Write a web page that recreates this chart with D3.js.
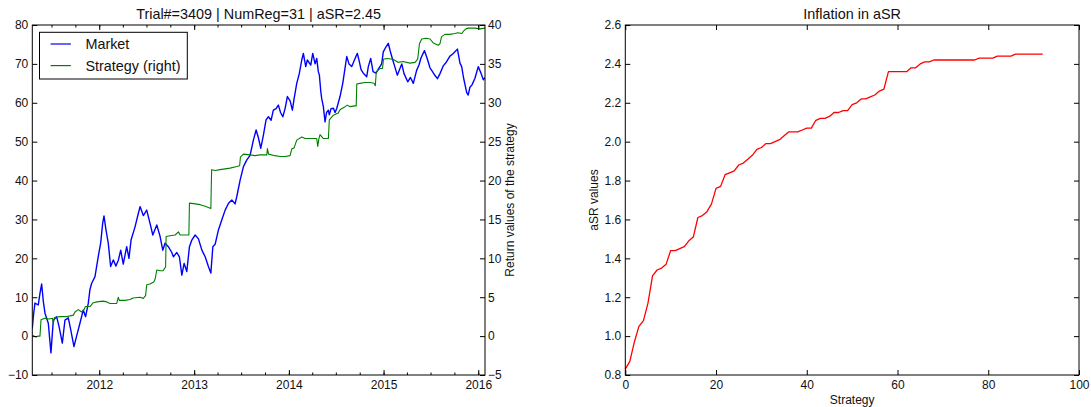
<!DOCTYPE html>
<html><head><meta charset="utf-8">
<script src="https://cdn.jsdelivr.net/npm/d3@7"></script>
<style>
html,body{margin:0;padding:0;background:#fff;}
svg{display:block;font-family:"Liberation Sans",Arial,Helvetica,sans-serif;}
</style></head><body>
<svg id="chart" width="1091" height="407"></svg>
<script>
// ---- data ----
// Market series: time as decimal year, value on the left axis
const marketYears = [
2011.293,2011.306,2011.321,2011.356,2011.374,2011.392,2011.409,2011.427,2011.462,2011.490,
2011.515,2011.550,2011.575,2011.610,2011.638,2011.673,2011.696,2011.733,2011.761,2011.796,
2011.831,2011.856,2011.884,2011.902,2011.920,2011.955,2011.989,2012.015,2012.036,2012.050,
2012.071,2012.095,2012.120,2012.148,2012.176,2012.201,2012.226,2012.253,2012.289,2012.313,
2012.335,2012.377,2012.412,2012.430,2012.464,2012.500,2012.535,2012.564,2012.606,2012.641,
2012.669,2012.693,2012.728,2012.764,2012.781,2012.817,2012.844,2012.870,2012.894,2012.922,
2012.950,2012.975,2013.010,2013.045,2013.081,2013.116,2013.150,2013.176,2013.197,2013.221,
2013.256,2013.292,2013.327,2013.361,2013.397,2013.432,2013.450,2013.485,2013.520,2013.556,
2013.590,2013.625,2013.654,2013.678,2013.703,2013.731,2013.759,2013.784,2013.812,2013.836,
2013.865,2013.889,2013.912,2013.936,2013.960,2013.984,2014.013,2014.037,2014.055,2014.083,
2014.111,2014.136,2014.153,2014.178,2014.195,2014.231,2014.252,2014.277,2014.294,2014.311,
2014.322,2014.337,2014.347,2014.364,2014.382,2014.398,2014.417,2014.427,2014.445,2014.470,
2014.488,2014.506,2014.540,2014.569,2014.593,2014.611,2014.635,2014.664,2014.699,2014.723,
2014.744,2014.762,2014.786,2014.822,2014.839,2014.864,2014.889,2014.920,2014.941,2014.980,
2014.997,2015.026,2015.050,2015.068,2015.097,2015.116,2015.145,2015.168,2015.192,2015.216,
2015.255,2015.284,2015.314,2015.350,2015.374,2015.395,2015.432,2015.459,2015.490,2015.517,
2015.543,2015.569,2015.596,2015.631,2015.664,2015.701,2015.733,2015.780,2015.807,2015.825,
2015.844,2015.878,2015.894,2015.912,2015.934,2015.965,2016.000,2016.029,2016.053,2016.071];
const marketValues = [
2.0,5.5,8.5,8.0,11,13.4,9,5.9,3.3,-4.3,
4.1,5.0,2.5,-1.8,4.1,4.7,2,-2.7,0,3.3,
6.7,5.0,8.4,12,13.6,15.3,20.4,23.9,29,30.9,
27.3,23.9,17.9,19.6,18,19.5,22.1,18.5,23,20,
24.7,28.1,31.6,33.3,31,32.4,29,26,28.6,25.6,
22.1,23.9,23,21.5,20.4,21.5,20.4,15.7,18.7,16.6,
23,24.7,26,25,22.1,20.4,17.9,16.2,23,23.6,
27.3,29.9,32.4,34.1,35,34,35.9,40.1,43.6,45.3,
46.5,50.4,53,51,48.3,51.7,55.6,56.4,55.5,58.1,
58.5,59.4,57.5,56.4,58.5,61.6,60.5,58.1,61,65,
67.6,71,72.7,69.3,71,69.7,72.7,70,71.4,68,
67.1,62.9,61,59,55.1,57.5,58.1,56.9,58.5,58.6,
57.5,58.6,61.6,65,68.9,71.9,70,69.3,71.4,72.7,
70.6,68.5,67.6,66.7,69.3,71.4,68,67.6,68.5,70,
73.1,74.4,75.3,73.5,71,69.5,67.1,68.5,70,67.5,
65.4,66.5,65,68.4,69.7,71.5,73.4,71.5,69,68,
67,66.2,67.5,69.5,70.5,72,72.6,73.8,70.2,69.3,
66.5,62.6,62,64,64.6,66.3,69.3,67.6,65.9,66.5];
// Strategy series: time as decimal year, value on the right axis
const strategyYears = [
2011.293,2011.311,2011.332,2011.353,2011.374,2011.385,2011.427,2011.469,2011.506,2011.515,
2011.527,2011.585,2011.649,2011.691,2011.726,2011.744,2011.778,2011.814,2011.839,2011.854,
2011.902,2011.937,2011.976,2012.039,2012.081,2012.113,2012.184,2012.201,2012.211,2012.271,
2012.324,2012.356,2012.430,2012.464,2012.488,2012.500,2012.535,2012.577,2012.590,2012.606,
2012.641,2012.672,2012.699,2012.704,2012.746,2012.799,2012.834,2012.852,2012.905,2012.944,
2012.950,2013.010,2013.063,2013.116,2013.176,2013.184,2013.221,2013.274,2013.327,2013.379,
2013.450,2013.480,2013.488,2013.520,2013.590,2013.643,2013.696,2013.767,2013.773,2013.786,
2013.854,2013.907,2013.960,2014.013,2014.031,2014.055,2014.083,2014.136,2014.171,2014.224,
2014.294,2014.305,2014.317,2014.329,2014.364,2014.417,2014.427,2014.470,2014.522,2014.540,
2014.593,2014.617,2014.646,2014.699,2014.711,2014.717,2014.751,2014.804,2014.857,2014.899,
2014.913,2014.923,2014.963,2014.989,2014.999,2015.033,2015.100,2015.152,2015.205,2015.279,
2015.332,2015.360,2015.379,2015.403,2015.448,2015.490,2015.525,2015.578,2015.596,2015.612,
2015.649,2015.701,2015.754,2015.786,2015.825,2015.844,2015.870,2015.894,2015.965,2016.018,
2016.071];
const strategyValues = [
0.1,0.0,-0.1,0.0,0.0,2.1,2.3,2.2,2.3,1.6,
2.4,2.5,2.5,2.6,2.7,3.1,3.4,3.1,3.4,3.8,
3.8,4.3,4.4,4.5,4.4,4.2,4.2,5.0,4.6,4.6,
4.7,4.9,5.0,4.85,5.2,6.6,6.7,7.0,7.4,8.5,
8.4,8.4,8.9,12.8,12.9,13.0,13.4,13.0,13.0,13.0,
17.1,17.0,16.9,16.7,16.4,21.4,21.3,21.4,21.5,21.6,
21.8,21.9,23.0,23.4,23.3,23.2,23.3,23.3,24.1,23.4,
23.2,23.1,23.1,23.2,24.1,24.2,25.2,25.6,25.4,25.4,
25.4,24.4,25.4,25.9,25.4,25.4,27.8,28.4,28.7,29.1,
29.5,29.7,29.5,29.6,29.6,32.4,32.5,32.6,32.6,32.5,
32.2,34.0,34.4,34.4,35.6,35.7,35.6,35.2,35.3,35.1,
35.2,35.6,37.6,38.2,38.3,38.2,37.7,37.4,37.6,38.5,
38.8,38.8,38.9,39.0,38.9,39.2,39.5,39.6,39.6,39.5,
39.6];
// aSR value of each successive strategy (x = strategy index)
const asrValues = [
0.83,0.87,0.97,1.05,1.08,1.17,1.31,1.34,1.35,1.37,
1.44,1.44,1.45,1.46,1.49,1.51,1.61,1.62,1.64,1.68,
1.76,1.77,1.83,1.84,1.85,1.88,1.89,1.91,1.93,1.96,
1.97,1.99,1.99,2.00,2.01,2.03,2.05,2.05,2.05,2.06,
2.07,2.07,2.11,2.12,2.12,2.13,2.15,2.15,2.16,2.16,
2.19,2.20,2.22,2.22,2.23,2.24,2.26,2.27,2.36,2.36,
2.36,2.36,2.36,2.38,2.38,2.40,2.41,2.41,2.42,2.42,
2.42,2.42,2.42,2.42,2.42,2.42,2.42,2.42,2.43,2.43,
2.43,2.43,2.44,2.44,2.44,2.44,2.45,2.45,2.45,2.45,
2.45,2.45,2.45];
const yearTicks = [2012,2013,2014,2015,2016];
const leftTicks = [-10,0,10,20,30,40,50,60,70,80];
const rightTicks = [-5,0,5,10,15,20,25,30,35,40];
const asrXTicks = [0,20,40,60,80,100];
const asrYTicks = [0.8,1.0,1.2,1.4,1.6,1.8,2.0,2.2,2.4,2.6];
const leftTitle = "Trial#=3409 | NumReg=31 | aSR=2.45";
const rightTitle = "Inflation in aSR";
const legendLabels = ["Market","Strategy (right)"];
const rightAxisLabel = "Return values of the strategy";
const asrXLabel = "Strategy";
const asrYLabel = "aSR values";

// ---- layout ----
const L = {x0:32.3, x1:485, y0:25, y1:375};
const R = {x0:625.3, x1:1079, y0:25, y1:375};
const INK = "#111";
const svg = d3.select("#chart");
svg.append("rect").attr("width",1091).attr("height",407).attr("fill","#fff");

const toDate = t => { const y=Math.floor(t); const s=Date.UTC(y,0,1), e=Date.UTC(y+1,0,1); return new Date(s+(t-y)*(e-s)); };

function style(g, fs){
  g.select(".domain").remove();
  g.selectAll("line").attr("stroke","#000").attr("stroke-width",1);
  g.selectAll("text").attr("fill",INK).style("font-size",(fs||12)+"px");
}

// ---------- left chart ----------
const x = d3.scaleUtc().domain(d3.extent(marketYears).map(toDate)).range([L.x0,L.x1]);
const yL = d3.scaleLinear().domain([-10,80]).range([L.y1,L.y0]);
const yR = d3.scaleLinear().domain([-5,40]).range([L.y1,L.y0]);

svg.append("clipPath").attr("id","clipL").append("rect")
  .attr("x",L.x0).attr("y",L.y0).attr("width",L.x1-L.x0).attr("height",L.y1-L.y0);

const mkt = marketYears.map((t,i)=>[toDate(t),marketValues[i]]);
const strat = strategyYears.map((t,i)=>[toDate(t),strategyValues[i]]);

svg.append("path").attr("clip-path","url(#clipL)")
  .attr("d", d3.line().x(d=>x(d[0])).y(d=>yL(d[1]))(mkt))
  .attr("fill","none").attr("stroke","#0000ff").attr("stroke-width",1.4).attr("stroke-linejoin","round");
svg.append("path").attr("clip-path","url(#clipL)")
  .attr("d", d3.line().x(d=>x(d[0])).y(d=>yR(d[1]))(strat))
  .attr("fill","none").attr("stroke","#008000").attr("stroke-width",1.1).attr("stroke-linejoin","round");

const yearDates = yearTicks.map(y=>new Date(Date.UTC(y,0,1)));
svg.append("g").attr("transform",`translate(0,${L.y1})`)
  .call(d3.axisBottom(x).ticks(d3.utcMonth.every(3)).tickSize(-2.5).tickFormat("")).call(g=>style(g));
svg.append("g").attr("transform",`translate(0,${L.y0})`)
  .call(d3.axisTop(x).ticks(d3.utcMonth.every(3)).tickSize(-2.5).tickFormat("")).call(g=>style(g));
svg.append("g").attr("transform",`translate(0,${L.y1})`)
  .call(d3.axisBottom(x).tickValues(yearDates).tickFormat(d3.utcFormat("%Y")).tickSize(-5).tickPadding(5)).call(g=>style(g));
svg.append("g").attr("transform",`translate(0,${L.y0})`)
  .call(d3.axisTop(x).tickValues(yearDates).tickFormat("").tickSize(-5)).call(g=>style(g));
svg.append("g").attr("transform",`translate(${L.x0},0)`)
  .call(d3.axisLeft(yL).tickValues(leftTicks).tickSize(-5).tickPadding(4)).call(g=>style(g));
svg.append("g").attr("transform",`translate(${L.x1},0)`)
  .call(d3.axisRight(yR).tickValues(rightTicks).tickSize(-5).tickPadding(3)).call(g=>style(g));

svg.append("rect").attr("x",L.x0).attr("y",L.y0).attr("width",L.x1-L.x0).attr("height",L.y1-L.y0)
  .attr("fill","none").attr("stroke","#000").attr("stroke-width",1);

svg.append("text").attr("x",(L.x0+L.x1)/2).attr("y",19.3).attr("text-anchor","middle")
  .attr("fill",INK).style("font-size","14.4px").text(leftTitle);
svg.append("text").attr("transform",`translate(514,${(L.y0+L.y1)/2}) rotate(-90)`)
  .attr("text-anchor","middle").attr("fill",INK).style("font-size","12px").text(rightAxisLabel);

// legend
const lg = svg.append("g");
lg.append("rect").attr("x",39.5).attr("y",32.3).attr("width",147.8).attr("height",46.7)
  .attr("fill","#fff").attr("stroke","#000").attr("stroke-width",1);
const legColors = ["#0000ff","#008000"];
legendLabels.forEach((lab,i)=>{
  const yy = 44 + i*21.6;
  lg.append("line").attr("x1",50.6).attr("x2",70.9).attr("y1",yy).attr("y2",yy)
    .attr("stroke",legColors[i]).attr("stroke-width",1.2);
  lg.append("text").attr("x",85.4).attr("y",yy+5.1).attr("fill",INK)
    .style("font-size","14.4px").text(lab);
});

// ---------- right chart ----------
const xs = d3.scaleLinear().domain([0,100]).range([R.x0,R.x1]);
const ys = d3.scaleLinear().domain([0.8,2.6]).range([R.y1,R.y0]);

svg.append("path")
  .attr("d", d3.line().x((d,i)=>xs(i)).y(d=>ys(d))(asrValues))
  .attr("fill","none").attr("stroke","#ff0000").attr("stroke-width",1.3).attr("stroke-linejoin","round");

svg.append("g").attr("transform",`translate(0,${R.y1})`)
  .call(d3.axisBottom(xs).tickValues(asrXTicks).tickFormat(d3.format("d")).tickSize(-5).tickPadding(5)).call(g=>style(g));
svg.append("g").attr("transform",`translate(0,${R.y0})`)
  .call(d3.axisTop(xs).tickValues(asrXTicks).tickFormat("").tickSize(-5)).call(g=>style(g));
svg.append("g").attr("transform",`translate(${R.x0},0)`)
  .call(d3.axisLeft(ys).tickValues(asrYTicks).tickFormat(d3.format(".1f")).tickSize(-5).tickPadding(4)).call(g=>style(g));
svg.append("g").attr("transform",`translate(${R.x1},0)`)
  .call(d3.axisRight(ys).tickValues(asrYTicks).tickFormat("").tickSize(-5)).call(g=>style(g));

svg.append("rect").attr("x",R.x0).attr("y",R.y0).attr("width",R.x1-R.x0).attr("height",R.y1-R.y0)
  .attr("fill","none").attr("stroke","#000").attr("stroke-width",1);

svg.append("text").attr("x",(R.x0+R.x1)/2).attr("y",19.3).attr("text-anchor","middle")
  .attr("fill",INK).style("font-size","14.4px").text(rightTitle);
svg.append("text").attr("x",(R.x0+R.x1)/2).attr("y",403.5).attr("text-anchor","middle")
  .attr("fill",INK).style("font-size","12px").text(asrXLabel);
svg.append("text").attr("transform",`translate(598,${(R.y0+R.y1)/2}) rotate(-90)`)
  .attr("text-anchor","middle").attr("fill",INK).style("font-size","12px").text(asrYLabel);
</script>
</body></html>
